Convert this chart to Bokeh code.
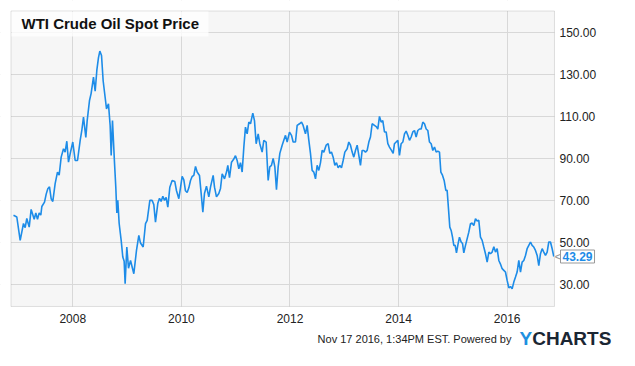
from bokeh.plotting import figure
from bokeh.models import FixedTicker, NumeralTickFormatter, Label, Range1d, BoxAnnotation
from bokeh.embed import file_html
from bokeh.resources import INLINE

# ---- data (decimal years, USD per barrel) ----
dates = [
    2006.908, 2006.969, 2007.031, 2007.092, 2007.123, 2007.153, 2007.197, 2007.233, 2007.289, 2007.319,
    2007.350, 2007.381, 2007.411, 2007.430, 2007.479, 2007.510, 2007.540, 2007.571, 2007.602, 2007.632,
    2007.675, 2007.718, 2007.749, 2007.786, 2007.829, 2007.859, 2007.890, 2007.921, 2007.958, 2008.000,
    2008.044, 2008.087, 2008.136, 2008.166, 2008.197, 2008.240, 2008.265, 2008.308, 2008.338, 2008.381,
    2008.412, 2008.443, 2008.473, 2008.498, 2008.529, 2008.559, 2008.596, 2008.621, 2008.657, 2008.688,
    2008.707, 2008.731, 2008.768, 2008.792, 2008.811, 2008.829, 2008.854, 2008.891, 2008.921, 2008.946,
    2008.964, 2008.995, 2009.026, 2009.063, 2009.124, 2009.173, 2009.216, 2009.247, 2009.296, 2009.339,
    2009.370, 2009.419, 2009.462, 2009.492, 2009.523, 2009.566, 2009.597, 2009.627, 2009.658, 2009.689,
    2009.719, 2009.750, 2009.787, 2009.830, 2009.879, 2009.910, 2009.953, 2009.983, 2010.014, 2010.045,
    2010.075, 2010.106, 2010.137, 2010.168, 2010.198, 2010.229, 2010.260, 2010.290, 2010.333, 2010.370,
    2010.395, 2010.425, 2010.462, 2010.505, 2010.536, 2010.585, 2010.610, 2010.646, 2010.689, 2010.720,
    2010.751, 2010.794, 2010.831, 2010.855, 2010.886, 2010.923, 2010.965, 2010.996, 2011.027, 2011.058,
    2011.088, 2011.119, 2011.150, 2011.180, 2011.211, 2011.242, 2011.273, 2011.315, 2011.346, 2011.377,
    2011.414, 2011.444, 2011.487, 2011.518, 2011.561, 2011.598, 2011.628, 2011.659, 2011.690, 2011.721,
    2011.751, 2011.782, 2011.813, 2011.856, 2011.886, 2011.917, 2011.948, 2011.991, 2012.028, 2012.058,
    2012.101, 2012.132, 2012.175, 2012.212, 2012.242, 2012.285, 2012.316, 2012.347, 2012.377, 2012.408,
    2012.439, 2012.470, 2012.500, 2012.531, 2012.562, 2012.592, 2012.623, 2012.666, 2012.703, 2012.733,
    2012.764, 2012.795, 2012.826, 2012.856, 2012.887, 2012.918, 2012.948, 2012.979, 2013.010, 2013.053,
    2013.083, 2013.114, 2013.145, 2013.175, 2013.206, 2013.237, 2013.267, 2013.298, 2013.329, 2013.360,
    2013.390, 2013.421, 2013.452, 2013.482, 2013.513, 2013.556, 2013.593, 2013.617, 2013.648, 2013.679,
    2013.709, 2013.740, 2013.771, 2013.802, 2013.832, 2013.869, 2013.900, 2013.924, 2013.955, 2013.986,
    2014.016, 2014.047, 2014.078, 2014.109, 2014.139, 2014.170, 2014.201, 2014.231, 2014.262, 2014.293,
    2014.323, 2014.354, 2014.385, 2014.416, 2014.446, 2014.477, 2014.508, 2014.538, 2014.569, 2014.600,
    2014.630, 2014.661, 2014.692, 2014.722, 2014.753, 2014.778, 2014.808, 2014.839, 2014.870, 2014.894,
    2014.919, 2014.943, 2014.968, 2014.993, 2015.017, 2015.042, 2015.066, 2015.097, 2015.121, 2015.152,
    2015.177, 2015.201, 2015.232, 2015.263, 2015.293, 2015.324, 2015.355, 2015.385, 2015.416, 2015.447,
    2015.477, 2015.508, 2015.539, 2015.569, 2015.600, 2015.631, 2015.662, 2015.692, 2015.723, 2015.754,
    2015.784, 2015.815, 2015.846, 2015.876, 2015.907, 2015.938, 2015.968, 2015.999, 2016.030, 2016.061,
    2016.091, 2016.122, 2016.153, 2016.183, 2016.214, 2016.245, 2016.275, 2016.306, 2016.337, 2016.367,
    2016.398, 2016.429, 2016.459, 2016.490, 2016.521, 2016.552, 2016.582, 2016.613, 2016.644, 2016.674,
    2016.705, 2016.736, 2016.766, 2016.797, 2016.828, 2016.858,
]
prices = [
    62.9, 62.1, 51.0, 59.0, 57.0, 61.4, 57.3, 65.7, 61.0, 64.0,
    61.0, 64.0, 63.0, 67.1, 69.2, 73.0, 75.6, 76.5, 70.8, 69.5,
    78.0, 83.5, 82.0, 90.6, 94.6, 93.0, 98.2, 88.2, 93.0, 97.8,
    89.0, 89.0, 98.6, 103.3, 109.7, 100.0, 108.0, 117.6, 121.0, 128.7,
    122.0, 132.0, 138.0, 141.1, 139.0, 127.0, 119.0, 113.6, 116.0, 105.7,
    91.4, 108.0, 88.0, 76.3, 64.0, 70.0, 59.0, 51.0, 43.0, 41.0,
    30.3, 47.8, 37.7, 41.4, 35.1, 46.2, 53.3, 49.7, 47.8, 58.9,
    60.5, 70.0, 70.0, 68.0, 59.7, 68.6, 71.0, 69.5, 72.0, 70.0,
    71.4, 66.8, 76.3, 79.5, 79.0, 74.6, 70.8, 76.0, 81.4, 79.8,
    74.6, 73.8, 76.0, 79.5, 81.4, 81.9, 86.2, 83.5, 81.9, 71.7,
    64.4, 73.3, 76.8, 71.7, 76.3, 81.9, 76.3, 71.7, 73.3, 75.7,
    82.7, 80.3, 83.5, 86.7, 80.8, 88.2, 89.7, 91.3, 89.0, 85.0,
    88.0, 83.5, 95.4, 104.9, 101.7, 107.3, 106.5, 111.6, 108.0, 97.0,
    101.7, 97.0, 93.0, 98.6, 97.8, 79.5, 86.0, 86.7, 90.0, 86.0,
    75.1, 86.0, 92.4, 96.3, 98.6, 101.0, 97.8, 102.5, 101.0, 97.8,
    97.8, 105.7, 106.5, 107.3, 105.7, 101.7, 105.7, 98.6, 92.4, 84.3,
    83.5, 80.3, 86.7, 84.3, 88.0, 93.8, 93.0, 96.3, 97.0, 92.4,
    93.0, 90.6, 86.7, 88.0, 85.5, 86.7, 85.5, 89.0, 93.0, 94.6,
    97.8, 96.3, 93.0, 90.6, 93.8, 96.3, 91.6, 86.7, 93.8, 93.8,
    93.0, 93.8, 97.8, 100.2, 106.5, 105.7, 105.0, 104.0, 110.0, 107.3,
    108.0, 102.6, 102.6, 97.0, 95.4, 93.8, 92.4, 97.0, 97.8, 98.6,
    91.4, 97.0, 97.8, 101.7, 103.0, 101.0, 98.6, 100.2, 102.6, 103.3,
    100.2, 103.3, 104.0, 104.0, 107.3, 106.5, 104.0, 103.3, 97.8, 97.0,
    93.8, 95.4, 93.0, 93.5, 93.0, 83.5, 82.0, 79.5, 74.8, 74.8,
    66.0, 57.3, 55.7, 52.5, 48.6, 48.6, 45.0, 49.5, 52.5, 50.2,
    49.5, 45.0, 48.6, 51.8, 54.9, 58.9, 59.2, 58.0, 61.3, 60.2,
    60.5, 52.5, 51.0, 47.8, 44.6, 40.6, 45.4, 44.6, 45.4, 48.0,
    45.4, 47.0, 41.4, 39.7, 37.5, 36.7, 35.9, 31.9, 28.4, 29.0,
    27.9, 31.1, 33.5, 35.9, 41.4, 35.9, 40.6, 41.4, 43.8, 47.0,
    48.6, 50.2, 48.6, 47.8, 46.2, 43.8, 39.0, 44.6, 47.0, 45.4,
    43.8, 45.4, 50.2, 50.2, 47.0, 43.29,
]
x_ticks = [2008, 2010, 2012, 2014, 2016]
y_ticks = [30, 50, 70, 90, 110, 130, 150]
title_text = "WTI Crude Oil Spot Price"
last_value_text = "43.29"
footer_text = "Nov 17 2016, 1:34PM EST.  Powered by"
brand_first = "Y"
brand_rest = "CHARTS"

# plotting-area extent (data units) and the wider canvas extent
X0, X1 = 2006.862, 2016.871
Y0, Y1 = 19.5, 160.2

BLUE = "#1d8ce8"
FONT = "Liberation Sans"
W, H = 619, 350
PX_PER_YEAR = 54.3
PX_PER_UNIT = 2.1
LEFT_PAD, TOP_PAD = 10.5, 10.5
xs = X0 - LEFT_PAD / PX_PER_YEAR
ys = Y1 + TOP_PAD / PX_PER_UNIT
TXT_DY = 6  # empirical baseline correction for screen-unit labels

p = figure(width=W, height=H, output_backend="svg", toolbar_location=None,
           x_range=Range1d(xs, xs + W / PX_PER_YEAR),
           y_range=Range1d(ys - H / PX_PER_UNIT, ys),
           y_axis_location="right",
           min_border_left=0, min_border_top=0, min_border_right=0, min_border_bottom=0,
           background_fill_color="white", border_fill_color="white",
           outline_line_color=None)

# plotting-area background (under the grid)
p.add_layout(BoxAnnotation(left=X0, right=X1, bottom=Y0, top=Y1,
                           fill_color="#f6f6f6", fill_alpha=1, line_color=None, level="image"))

# white masks outside the plotting area (hide grid lines there)
for kw in (dict(right=X0), dict(left=X1), dict(bottom=Y1), dict(top=Y0)):
    p.add_layout(BoxAnnotation(fill_color="white", fill_alpha=1, line_color=None,
                               level="glyph", **kw))

p.line(dates, prices, line_color=BLUE, line_width=1.6)

# plotting-area outline
p.add_layout(BoxAnnotation(left=X0, right=X1, bottom=Y0, top=Y1,
                           fill_alpha=0, line_color="#999999", line_width=1, level="overlay"))

for ax in (p.xaxis[0], p.yaxis[0]):
    ax.major_tick_out = 0
    ax.major_tick_in = 0
    ax.minor_tick_out = 0
    ax.minor_tick_in = 0
    ax.axis_line_color = None
    ax.major_label_text_font = FONT
    ax.major_label_text_font_size = "12px"
    ax.major_label_text_color = "#222222"

p.xaxis.ticker = FixedTicker(ticks=x_ticks)
p.xaxis.formatter = NumeralTickFormatter(format="0")
p.xaxis.fixed_location = Y0
p.xaxis.major_label_standoff = 8
p.yaxis.ticker = FixedTicker(ticks=y_ticks)
p.yaxis.formatter = NumeralTickFormatter(format="0.00")
p.yaxis.fixed_location = X1
p.yaxis.major_label_standoff = 5
p.xgrid.grid_line_color = "#d8d8d8"
p.ygrid.grid_line_color = "#d8d8d8"

# title box (screen units: origin bottom-left of canvas)
p.add_layout(BoxAnnotation(left=11, right=208, top=H - 11, bottom=H - 36,
                           left_units="screen", right_units="screen",
                           top_units="screen", bottom_units="screen",
                           fill_color="white", fill_alpha=0.8, line_color=None, level="overlay"))
p.add_layout(Label(x=21, y=H - 29.3 + TXT_DY, x_units="screen", y_units="screen",
                   text=title_text, text_font=FONT, text_font_size="15px",
                   text_font_style="bold", text_color="#111111",
                   text_baseline="alphabetic", level="overlay"))

# last value tag
p.add_layout(Label(x=554, x_units="screen", y=prices[-1], y_units="data",
                   text="<", text_font=FONT, text_font_size="13px",
                   text_color="#999999", text_baseline="middle", level="overlay"))
p.add_layout(Label(x=560, x_units="screen", y=prices[-1], y_units="data",
                   text=last_value_text, text_font=FONT, text_font_size="12px",
                   text_font_style="bold", text_color=BLUE, text_baseline="middle",
                   background_fill_color="white", border_line_color="#999999",
                   padding=2, level="overlay"))

# footer
FOOT_Y = 6 + TXT_DY
p.add_layout(Label(x=514, y=FOOT_Y, x_units="screen", y_units="screen",
                   text=footer_text, text_font=FONT, text_font_size="11px",
                   text_color="#222222", text_align="right", text_baseline="alphabetic",
                   level="overlay"))
p.add_layout(Label(x=519, y=FOOT_Y, x_units="screen", y_units="screen",
                   text=brand_first, text_font=FONT, text_font_size="19px",
                   text_font_style="bold", text_color="#1e90e0", text_baseline="alphabetic",
                   level="overlay"))
p.add_layout(Label(x=531.7, y=FOOT_Y, x_units="screen", y_units="screen",
                   text=brand_rest, text_font=FONT, text_font_size="19px",
                   text_font_style="bold", text_color="#1b2633", text_baseline="alphabetic",
                   level="overlay"))

open("out.html", "w").write(file_html(p, INLINE))
